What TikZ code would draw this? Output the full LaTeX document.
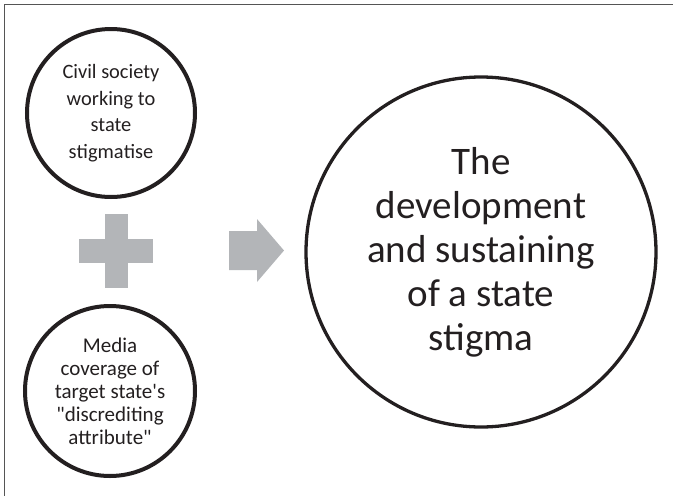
\documentclass[tikz,border=0pt]{standalone}
\usepackage{fontspec}
\setmainfont{Carlito}[Ligatures=TeXOff]
% Calibri-style "ti"/"tt" ligatures, taken from the discretionary set only here
\newcommand{\dligOn}[1]{{\addfontfeature{Ligatures=Discretionary}#1}}
\definecolor{ink}{HTML}{231F20}
\definecolor{symbolgray}{HTML}{B3B5B8}
\definecolor{framegray}{HTML}{555555}
\begin{document}
\begin{tikzpicture}[x=1pt,y=-1pt,
  bubble/.style={circle, draw=ink, line width=4pt, inner sep=0pt,
    minimum size=168pt, align=center, text=ink},
  bigbubble/.style={circle, draw=ink, line width=3.3pt, inner sep=0pt,
    minimum size=350pt, align=center, text=ink},
  symbol/.style={fill=symbolgray, draw=none}]
\useasboundingbox (0,0) rectangle (673,496);

% frame (left and top edges)
\draw[framegray, line width=1pt] (4,496) -- (4,4) -- (673,4);

% input bubbles
\node[bubble, font=\fontsize{20.4}{26.5}\selectfont] (civil) at (111,113)
  {Civil society\\working to\\state\\s\dligOn{ti}gma\dligOn{ti}se};
\node[bubble, minimum size=170pt, font=\fontsize{21}{23}\selectfont] (media) at (110,391)
  {Media\\coverage of\\target state's\\"discrediting\\a\dligOn{tt}ribute"};

% outcome bubble
\node[bigbubble, font=\fontsize{39}{44}\selectfont] (stigma) at (481,252)
  {The\\development\\and sustaining\\of a state\\s\dligOn{ti}gma};

% plus sign between the inputs
\fill[symbol] (105,214) rectangle (128,288);
\fill[symbol] (79,239) rectangle (153,263);

% block arrow towards the outcome
\fill[symbol] (229,231) -- (257,231) -- (257,219) -- (284,250.5)
  -- (257,282) -- (257,270) -- (229,270) -- cycle;
\end{tikzpicture}
\end{document}
